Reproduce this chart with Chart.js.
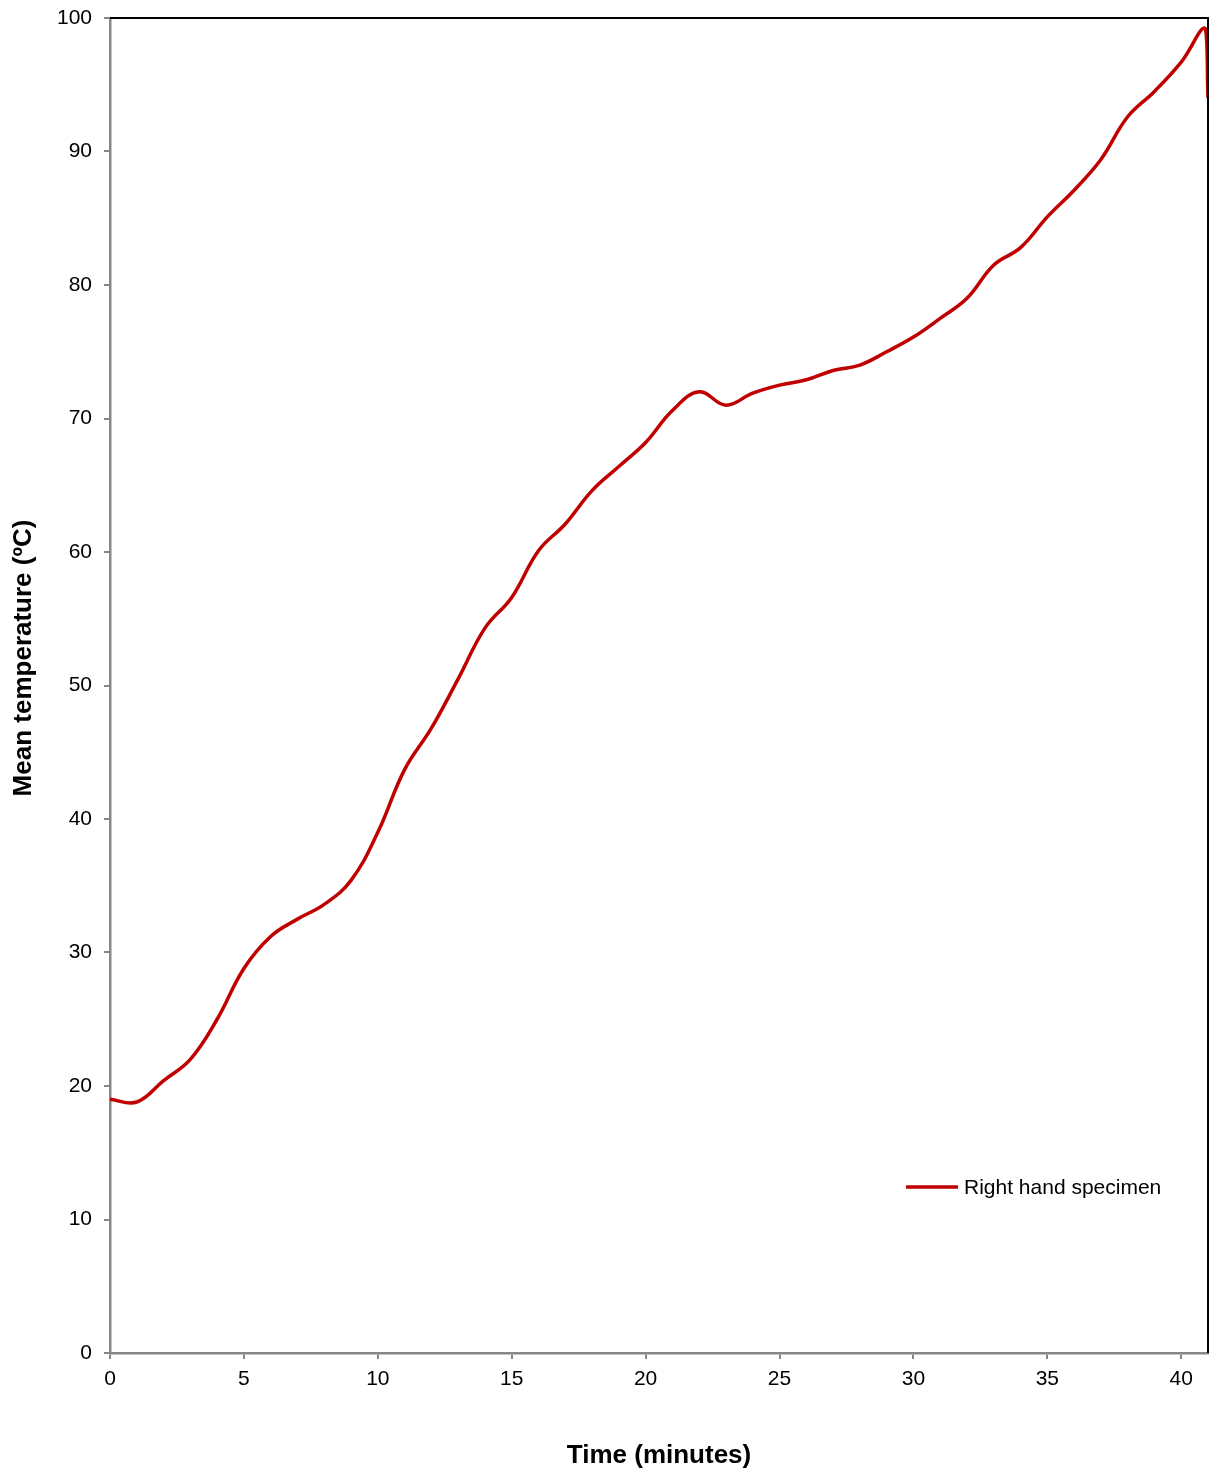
<!DOCTYPE html>
<html lang="en">
<head>
  <meta charset="UTF-8" />
  <title>Mean temperature vs time</title>
  <script src="https://cdn.jsdelivr.net/npm/chart.js"></script>
  <style>
    html, body { margin: 0; padding: 0; background: #fff; }
    #wrap { width: 1210px; height: 1475px; position: relative; }
  </style>
</head>
<body>
  <div id="wrap"><canvas id="tempChart"></canvas></div>

  <script>
    // values
    const minutes = [0, 1, 2, 3, 4, 5, 6, 7, 8, 9, 10, 11, 12, 13, 14, 15, 16, 17, 18, 19, 20,
      21, 22, 23, 24, 25, 26, 27, 28, 29, 30, 31, 32, 33, 34, 35, 36, 37, 38, 39, 40, 40.9, 41];
    const rightHand = [19.0, 18.8, 20.4, 22.0, 25.0, 28.8, 31.2, 32.5, 33.6, 35.4, 39.0,
      43.7, 46.8, 50.5, 54.3, 56.6, 60.1, 62.1, 64.6, 66.4, 68.2,
      70.6, 72.0, 71.0, 71.9, 72.5, 72.9, 73.6, 74.0, 75.0, 76.1,
      77.5, 79.0, 81.5, 82.8, 85.1, 87.1, 89.4, 92.6, 94.5, 96.7, 99.2, 94.0];
    const xTicks = [0, 5, 10, 15, 20, 25, 30, 35, 40];
    const yTicks = [0, 10, 20, 30, 40, 50, 60, 70, 80, 90, 100];

    const font = "'Liberation Sans', Arial, sans-serif";
    const gray = '#878787';

    // top/right frame, axis titles and the legend
    const extras = {
      id: 'extras',
      afterDraw(chart) {
        const { ctx, chartArea: a } = chart;
        ctx.save();
        ctx.strokeStyle = '#000';
        ctx.lineWidth = 2;
        ctx.beginPath();
        ctx.moveTo(a.left, a.top);
        ctx.lineTo(a.right, a.top);
        ctx.lineTo(a.right, a.bottom);
        ctx.stroke();

        ctx.fillStyle = '#000';
        ctx.font = 'bold 26px ' + font;
        ctx.textAlign = 'center';
        ctx.textBaseline = 'middle';
        ctx.fillText('Time (minutes)', (a.left + a.right) / 2, 1456);

        ctx.translate(24, 658);
        ctx.rotate(-Math.PI / 2);
        ctx.fillText('Mean temperature (\u00BAC)', 0, 0);
        ctx.restore();

        const ds = chart.data.datasets[0];
        ctx.save();
        ctx.strokeStyle = ds.borderColor;
        ctx.lineWidth = 3.5;
        ctx.beginPath();
        ctx.moveTo(906, 1187);
        ctx.lineTo(958, 1187);
        ctx.stroke();
        ctx.fillStyle = '#000';
        ctx.font = '21px ' + font;
        ctx.textAlign = 'left';
        ctx.textBaseline = 'middle';
        ctx.fillText(ds.label, 964, 1188);
        ctx.restore();
      }
    };

    new Chart(document.getElementById('tempChart'), {
      type: 'line',
      data: {
        datasets: [{
          label: 'Right hand specimen',
          data: minutes.map((m, i) => ({ x: m, y: rightHand[i] })),
          borderColor: '#C00000',
          borderWidth: 3.5,
          pointRadius: 0,
          tension: 0.4,
          fill: false
        }]
      },
      options: {
        responsive: true,
        maintainAspectRatio: false,
        animation: false,
        layout: { padding: { top: 18, right: 2, left: 0, bottom: 0 } },
        plugins: {
          legend: { display: false },
          tooltip: { enabled: false }
        },
        scales: {
          x: {
            type: 'linear',
            min: 0,
            max: 41,
            afterBuildTicks: s => { s.ticks = xTicks.map(v => ({ value: v })); },
            afterFit: s => { s.height = 122; s.paddingLeft = 0; s.paddingRight = 0; },
            grid: { drawOnChartArea: false, drawTicks: true, tickLength: 6, color: gray, lineWidth: 2 },
            border: { color: gray, width: 2.5 },
            ticks: { color: '#000', padding: 8, font: { family: font, size: 21 }, maxRotation: 0 }
          },
          y: {
            min: 0,
            max: 100,
            afterBuildTicks: s => { s.ticks = yTicks.map(v => ({ value: v })); },
            afterFit: s => { s.width = 110; s.paddingTop = 0; s.paddingBottom = 0; },
            grid: { drawOnChartArea: false, drawTicks: true, tickLength: 6, color: gray, lineWidth: 2 },
            border: { color: gray, width: 2.5 },
            ticks: { color: '#000', padding: 12, font: { family: font, size: 21 } }
          }
        }
      },
      plugins: [extras]
    });
  </script>
</body>
</html>
